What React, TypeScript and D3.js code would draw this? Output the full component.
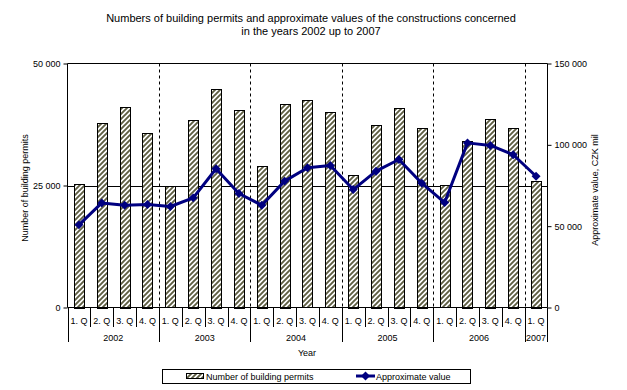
import { useRef, useEffect } from 'react';
import { select, scaleBand, scaleLinear, axisLeft, axisRight, line, symbol, symbolSquare, format } from 'd3';

const W = 627;
const H = 390;
const FONT = '"Liberation Sans", Arial, sans-serif';

// quarters along the x axis
const quarters = [
  '1. Q', '2. Q', '3. Q', '4. Q',
  '1. Q', '2. Q', '3. Q', '4. Q',
  '1. Q', '2. Q', '3. Q', '4. Q',
  '1. Q', '2. Q', '3. Q', '4. Q',
  '1. Q', '2. Q', '3. Q', '4. Q',
  '1. Q',
];
const years = ['2002', '2003', '2004', '2005', '2006', '2007'];
const quartersPerYear = [4, 4, 4, 4, 4, 1];

// number of building permits (left axis)
const permits = [
  25400, 37900, 41100, 35800,
  24800, 38500, 44800, 40500,
  29000, 41800, 42500, 40000,
  27200, 37400, 40900, 36800,
  25100, 34200, 38700, 36800,
  26000,
];
// approximate value, CZK mil (right axis)
const approxValue = [
  50800, 64300, 62900, 63300,
  62100, 67400, 85300, 70100,
  62900, 77700, 85900, 87300,
  72500, 83800, 91000, 76400,
  64500, 101200, 99600, 93900,
  80700,
];
const leftTicks = [0, 25000, 50000];
const rightTicks = [0, 50000, 100000, 150000];

const M = { left: 67.5, right: 547.5, top: 63.5, bottom: 307.5 };
const fmt = (v: number) => format(',')(v).replace(/,/g, ' ');

function App() {
  const svgRef = useRef<SVGSVGElement>(null);

  useEffect(() => {
    const svg = select(svgRef.current);
    svg.selectAll('*').remove();

    const idx = quarters.map((_, i) => String(i));
    const x = scaleBand().domain(idx).range([M.left, M.right]).paddingInner(0).paddingOuter(0);
    const yL = scaleLinear().domain([0, 50000]).range([M.bottom, M.top]);
    const yR = scaleLinear().domain([0, 150000]).range([M.bottom, M.top]);
    const bw = x.bandwidth();

    // hatch pattern for bars
    const defs = svg.append('defs');
    const pat = defs.append('pattern')
      .attr('id', 'hatch')
      .attr('patternUnits', 'userSpaceOnUse')
      .attr('width', 5)
      .attr('height', 5);
    pat.append('rect').attr('width', 5).attr('height', 5).attr('fill', '#fff');
    pat.append('path')
      .attr('d', 'M-1.25,1.25 l2.5,-2.5 M0,5 l5,-5 M3.75,6.25 l2.5,-2.5')
      .attr('stroke', '#5e5e42')
      .attr('stroke-width', 1.9);

    // title
    const title = svg.append('text')
      .attr('text-anchor', 'middle')
      .style('font-family', FONT)
      .style('font-size', '11px');
    title.append('tspan').attr('x', 311).attr('y', 22)
      .text('Numbers of building permits and approximate values of the constructions concerned');
    title.append('tspan').attr('x', 311).attr('y', 35)
      .text('in  the years 2002 up to 2007');

    // gridline + frame top
    svg.append('line')
      .attr('x1', M.left).attr('x2', M.right)
      .attr('y1', Math.round(yL(25000)) + 0.5).attr('y2', Math.round(yL(25000)) + 0.5)
      .attr('stroke', '#000');
    svg.append('line')
      .attr('x1', M.left).attr('x2', M.right)
      .attr('y1', M.top).attr('y2', M.top)
      .attr('stroke', '#000');

    // dashed year separators
    let acc = 0;
    const bounds: number[] = [];
    quartersPerYear.forEach(n => { acc += n; bounds.push(acc); });
    bounds.slice(0, -1).forEach(b => {
      const bx = Math.round(x(String(b))!) + 0.5;
      svg.append('line')
        .attr('x1', bx).attr('x2', bx)
        .attr('y1', M.top).attr('y2', M.bottom)
        .attr('stroke', '#000')
        .attr('stroke-dasharray', '3,3');
    });

    // bars
    const barW = bw * 0.44;
    svg.append('g').selectAll('rect')
      .data(permits)
      .join('rect')
      .attr('x', (_, i) => Math.round(x(String(i))! + (bw - barW) / 2) + 0.5)
      .attr('y', d => Math.round(yL(d)) + 0.5)
      .attr('width', Math.round(barW))
      .attr('height', d => Math.round(M.bottom - yL(d)))
      .attr('fill', 'url(#hatch)')
      .attr('stroke', '#000')
      .attr('stroke-width', 1);

    // line series
    const cx = (i: number) => x(String(i))! + bw / 2;
    const ln = line<number>().x((_, i) => cx(i)).y(d => yR(d));
    svg.append('path')
      .datum(approxValue)
      .attr('d', ln)
      .attr('fill', 'none')
      .attr('stroke', '#000080')
      .attr('stroke-width', 3)
      .attr('stroke-linejoin', 'round');
    const diamond = symbol().type(symbolSquare).size(40);
    svg.append('g').selectAll('path')
      .data(approxValue)
      .join('path')
      .attr('d', diamond)
      .attr('transform', (d, i) => `translate(${cx(i)},${yR(d)}) rotate(45)`)
      .attr('fill', '#000080');

    // y axes
    const gl = svg.append('g')
      .attr('transform', `translate(${M.left},0)`)
      .call(axisLeft(yL).tickValues(leftTicks).tickSize(4).tickPadding(3).tickFormat(d => fmt(+d)));
    const gr = svg.append('g')
      .attr('transform', `translate(${M.right},0)`)
      .call(axisRight(yR).tickValues(rightTicks).tickSize(4).tickPadding(3).tickFormat(d => fmt(+d)));
    [gl, gr].forEach(g => {
      g.select('.domain').attr('d', `M0,${M.top}V${M.bottom}`);
      g.selectAll('text').style('font-family', FONT).style('font-size', '9px');
    });

    // x axis line
    svg.append('line')
      .attr('x1', M.left).attr('x2', M.right)
      .attr('y1', M.bottom).attr('y2', M.bottom)
      .attr('stroke', '#000');

    // quarter separators and labels
    const xg = svg.append('g');
    quarters.forEach((q, i) => {
      const bx = Math.round(x(String(i))!) + 0.5;
      xg.append('line')
        .attr('x1', bx).attr('x2', bx)
        .attr('y1', M.bottom).attr('y2', 327)
        .attr('stroke', '#000');
      xg.append('text')
        .attr('x', cx(i))
        .attr('y', 324)
        .attr('text-anchor', 'middle')
        .style('font-family', FONT)
        .style('font-size', '9px')
        .text(q);
    });
    // year separators and labels
    let start = 0;
    const yearEdges = [0, ...bounds];
    yearEdges.forEach(b => {
      const bx = b >= quarters.length ? M.right : Math.round(x(String(b))!) + 0.5;
      xg.append('line')
        .attr('x1', bx).attr('x2', bx)
        .attr('y1', M.bottom).attr('y2', 342)
        .attr('stroke', '#000');
    });
    years.forEach((yr, k) => {
      const n = quartersPerYear[k];
      const x0 = x(String(start))!;
      const x1 = x0 + n * bw;
      xg.append('text')
        .attr('x', (x0 + x1) / 2)
        .attr('y', 341)
        .attr('text-anchor', 'middle')
        .style('font-family', FONT)
        .style('font-size', '9px')
        .text(yr);
      start += n;
    });

    // axis titles
    svg.append('text')
      .attr('x', 307).attr('y', 356)
      .attr('text-anchor', 'middle')
      .style('font-family', FONT).style('font-size', '9px')
      .text('Year');
    svg.append('text')
      .attr('transform', `translate(28,188) rotate(-90)`)
      .attr('text-anchor', 'middle')
      .style('font-family', FONT).style('font-size', '9px')
      .text('Number of building permits');
    svg.append('text')
      .attr('transform', `translate(598,190) rotate(-90)`)
      .attr('text-anchor', 'middle')
      .style('font-family', FONT).style('font-size', '9px')
      .text('Approximate value, CZK mil');

    // legend
    const lg = svg.append('g');
    lg.append('rect')
      .attr('x', 162.5).attr('y', 369.5).attr('width', 308).attr('height', 14)
      .attr('fill', '#fff').attr('stroke', '#000');
    lg.append('rect')
      .attr('x', 186.5).attr('y', 373.5).attr('width', 17).attr('height', 5)
      .attr('fill', 'url(#hatch)').attr('stroke', '#000');
    lg.append('text')
      .attr('x', 206).attr('y', 380)
      .style('font-family', FONT).style('font-size', '9px')
      .text('Number of building permits');
    lg.append('line')
      .attr('x1', 356).attr('x2', 375).attr('y1', 376).attr('y2', 376)
      .attr('stroke', '#000080').attr('stroke-width', 3);
    lg.append('path')
      .attr('d', diamond)
      .attr('transform', 'translate(365.5,376) rotate(45)')
      .attr('fill', '#000080');
    lg.append('text')
      .attr('x', 376).attr('y', 380)
      .style('font-family', FONT).style('font-size', '9px')
      .text('Approximate value');
  }, []);

  return (
    <svg ref={svgRef} width={W} height={H}
      style={{ position: 'absolute', left: 0, top: 0, background: '#fff' }} />
  );
}

export default App;
